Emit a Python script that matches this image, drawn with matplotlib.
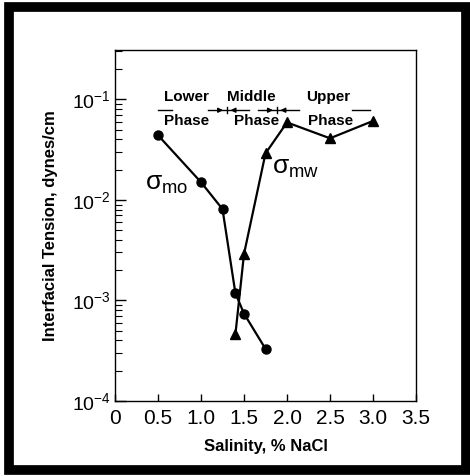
import matplotlib
matplotlib.use("Agg")
import matplotlib.pyplot as plt
from matplotlib.patches import Rectangle
from matplotlib.ticker import LogLocator, FixedLocator, NullFormatter

plt.rcParams['font.family'] = ['Liberation Sans', 'DejaVu Sans']
plt.rcParams['mathtext.fontset'] = 'custom'
plt.rcParams['mathtext.rm'] = 'Liberation Sans'
plt.rcParams['mathtext.it'] = 'Liberation Sans'

# Interfacial tension vs. salinity
salinity_mo = [0.5, 1.0, 1.25, 1.4, 1.5, 1.75]
tension_mo = [0.044, 0.015, 0.0081, 0.00118, 0.00074, 0.00033]

salinity_mw = [1.4, 1.5, 1.75, 2.0, 2.5, 3.0]
tension_mw = [0.00046, 0.0029, 0.029, 0.059, 0.041, 0.061]

x_ticks = [0, 0.5, 1.0, 1.5, 2.0, 2.5, 3.0, 3.5]
x_tick_labels = ['0', '0.5', '1.0', '1.5', '2.0', '2.5', '3.0', '3.5']

phase_names = ['Lower', 'Middle', 'Upper']
phase_name_x = [0.83, 1.59, 2.48]
phase_word_x = [0.83, 1.65, 2.51]
phase_bounds = [1.30, 1.88]

fig = plt.figure(figsize=(4.70, 4.76), dpi=100)
ax = fig.add_axes([0.2447, 0.1576, 0.6404, 0.7374])

ax.plot(salinity_mo, tension_mo, color='black', lw=1.6, marker='o', ms=6.5)
ax.plot(salinity_mw, tension_mw, color='black', lw=1.6, marker='^', ms=6.5)

ax.set_yscale('log')
ax.set_xlim(0, 3.5)
ax.set_ylim(1e-4, 0.31)

ax.xaxis.set_major_locator(FixedLocator(x_ticks))
ax.set_xticklabels(x_tick_labels)
ax.yaxis.set_major_locator(LogLocator(base=10, numticks=10))
ax.yaxis.set_minor_locator(LogLocator(base=10, subs=range(2, 10), numticks=10))
ax.yaxis.set_minor_formatter(NullFormatter())

ax.tick_params(axis='both', which='both', direction='in', top=False, right=False)
ax.tick_params(axis='y', which='major', length=8, width=1, labelsize=14, pad=3)
ax.tick_params(axis='y', which='minor', length=5, width=0.8)
ax.tick_params(axis='x', which='major', length=5, width=1, labelsize=15, pad=6)
for s in ax.spines.values():
    s.set_linewidth(1.0)

ax.set_ylabel('Interfacial Tension, dynes/cm', fontsize=12, fontweight='bold', labelpad=10)
ax.set_xlabel('Salinity, % NaCl', fontsize=12, fontweight='bold', labelpad=8)

# curve labels
ax.text(0.35, 0.0145, r'$\sigma_{\mathrm{mo}}$', fontsize=19, ha='left', va='center')
ax.text(1.83, 0.021, r'$\sigma_{\mathrm{mw}}$', fontsize=19, ha='left', va='center')

# phase region annotation
for name, xn, xw in zip(phase_names, phase_name_x, phase_word_x):
    ax.text(xn, 0.105, name, fontsize=11, fontweight='bold', ha='center', va='center')
    ax.text(xw, 0.0605, 'Phase', fontsize=11, fontweight='bold', ha='center', va='center')

y_line = 0.078
ax.plot([0.50, 0.66], [y_line, y_line], color='black', lw=1.0)
ax.plot([2.76, 2.97], [y_line, y_line], color='black', lw=1.0)
for b in phase_bounds:
    ax.plot([b - 0.22, b + 0.26], [y_line, y_line], color='black', lw=1.0)
    ax.plot([b, b], [y_line * 0.93, y_line * 1.08], color='black', lw=1.0)
    ax.annotate('', xy=(b - 0.01, y_line), xytext=(b - 0.12, y_line),
                arrowprops=dict(arrowstyle='-|>', color='black', lw=1.0,
                                mutation_scale=7))
    ax.annotate('', xy=(b + 0.01, y_line), xytext=(b + 0.12, y_line),
                arrowprops=dict(arrowstyle='-|>', color='black', lw=1.0,
                                mutation_scale=7))

# outer frame
fig.patches.append(Rectangle((0.019, 0.013), 0.972, 0.973, transform=fig.transFigure,
                             fill=False, edgecolor='black', linewidth=7))

fig.savefig('out.png', dpi=100)
